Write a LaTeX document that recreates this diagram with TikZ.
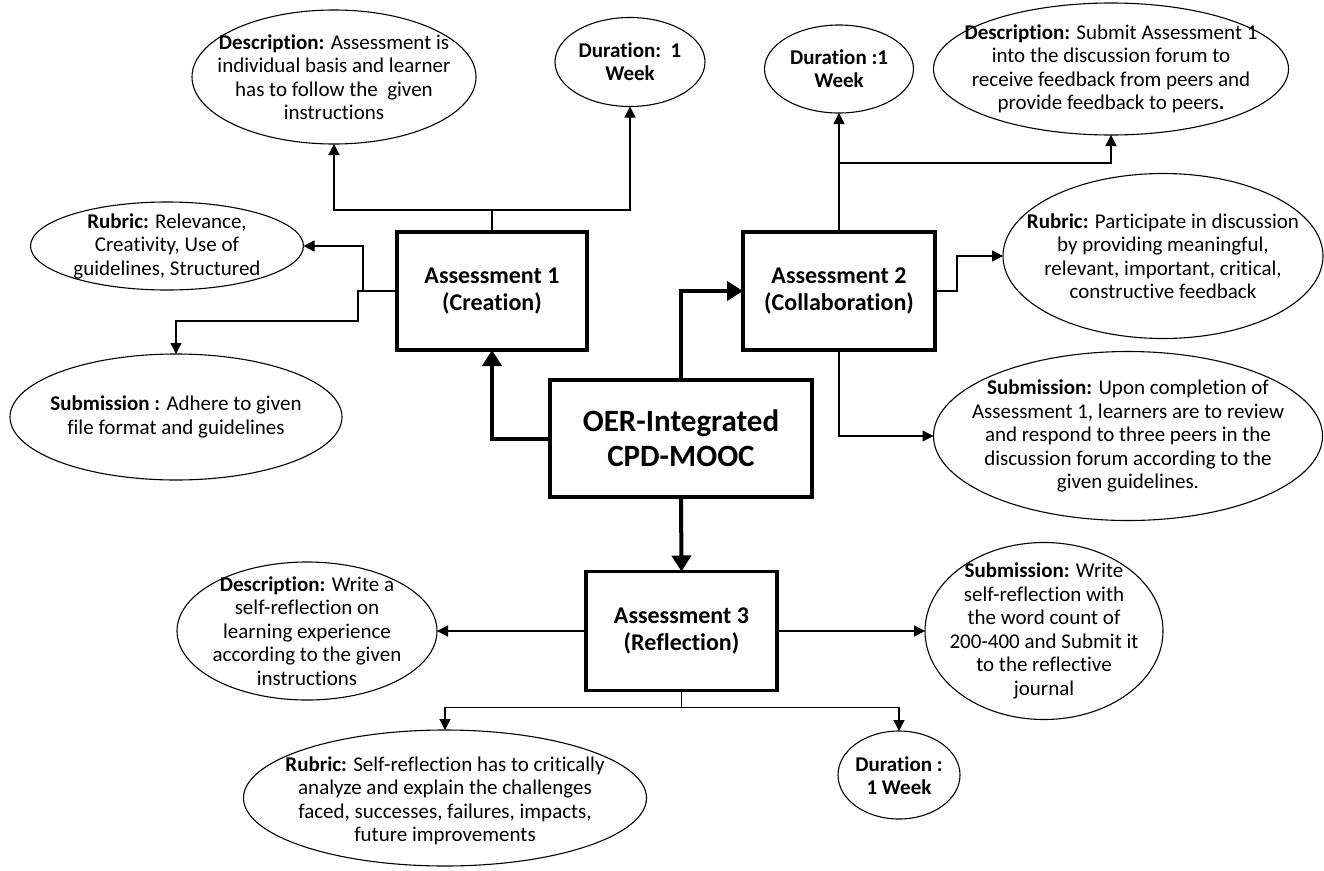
\documentclass[tikz,border=0pt]{standalone}
\usepackage{fontspec}
\setmainfont{Carlito}[Ligatures=NoCommon]
\usetikzlibrary{arrows.meta,shapes.geometric}

\begin{document}
\begin{tikzpicture}[x=1pt,y=-1pt,
  every node/.style={inner sep=0pt, outer sep=0pt},
  box/.style={draw, rectangle, line width=3.4pt},
  oval/.style={draw, ellipse, line width=1.1pt},
  ovtext/.style={align=center, font=\fontsize{21}{23.5}\selectfont},
  durtext/.style={align=center, font=\fontsize{21}{23}\selectfont\bfseries},
  boxtext/.style={align=center, font=\fontsize{24}{27.5}\selectfont\bfseries},
  arr/.style={line width=1.4pt, -{Triangle[length=11pt,width=11pt]}},
  bigarr/.style={line width=4pt, -{Triangle[length=16pt,width=19pt]}},
]
\fill[white] (0,0) rectangle (1324,870);
\useasboundingbox (0,0) rectangle (1324,870);

% main boxes
\node[box, minimum width=190, minimum height=118] (a1) at (492,291) {};
\node[boxtext] (a1t) at (a1) {Assessment 1\\(Creation)};
\node[box, minimum width=192, minimum height=118] (a2) at (839,291) {};
\node[boxtext] (a2t) at (a2) {Assessment 2\\(Collaboration)};
\node[box, minimum width=262, minimum height=117] (oer) at (681,438.5) {};
\node[align=center, font=\fontsize{31}{35}\selectfont\bfseries] (oert) at (oer) {OER-Integrated\\CPD-MOOC};
\node[box, minimum width=191, minimum height=119] (a3) at (681.5,631) {};
\node[boxtext] (a3t) at (a3) {Assessment 3\\(Reflection)};

% Assessment 1 details
\node[oval, minimum width=284, minimum height=134] (d1) at (334,77) {};
\node[ovtext] (d1t) at (d1) {\textbf{Description:} Assessment is\\individual basis and learner\\has to follow the\ \ given\\instructions};
\node[oval, minimum width=150, minimum height=89] (du1) at (630,62) {};
\node[durtext] (du1t) at (du1) {Duration:\ \ 1\\Week};
\node[oval, minimum width=273, minimum height=88] (r1) at (167,246) {};
\node[ovtext] (r1t) at (r1) {\textbf{Rubric:} Relevance,\\Creativity, Use of\\guidelines, Structured};
\node[oval, minimum width=332, minimum height=126] (s1) at (176,417) {};
\node[ovtext] (s1t) at (s1) {\textbf{Submission :} Adhere to given\\file format and guidelines};

% Assessment 2 details
\node[oval, minimum width=149, minimum height=88] (du2) at (839,69) {};
\node[durtext] (du2t) at (du2) {Duration :1\\Week};
\node[oval, minimum width=355, minimum height=132] (d2) at (1111,69) {};
\node[ovtext] (d2t) at (d2) {\textbf{Description:} Submit Assessment 1\\into the discussion forum to\\receive feedback from peers and\\provide feedback to peers\textbf{.}};
\node[oval, minimum width=320, minimum height=165] (r2) at (1163,256) {};
\node[ovtext] (r2t) at (r2) {\textbf{Rubric:} Participate in discussion\\by providing meaningful,\\relevant, important, critical,\\constructive feedback};
\node[oval, minimum width=389, minimum height=169] (s2) at (1128,436) {};
\node[ovtext] (s2t) at (s2) {\textbf{Submission:} Upon completion of\\Assessment 1, learners are to review\\and respond to three peers in the\\discussion forum according to the\\given guidelines.};

% Assessment 3 details
\node[oval, minimum width=260, minimum height=138] (d3) at (307,631) {};
\node[ovtext] (d3t) at (d3) {\textbf{Description:} Write a\\self-reflection on\\learning experience\\according to the given\\instructions};
\node[oval, minimum width=238, minimum height=177] (s3) at (1044,631) {};
\node[ovtext] (s3t) at (s3) {\textbf{Submission:} Write\\self-reflection with\\the word count of\\200-400 and Submit it\\to the reflective\\journal};
\node[oval, minimum width=403, minimum height=136] (r3) at (445,798) {};
\node[ovtext] (r3t) at (445,801) {\textbf{Rubric:} Self-reflection has to critically\\analyze and explain the challenges\\faced, successes, failures, impacts,\\future improvements};
\node[oval, minimum width=122, minimum height=88] (du3) at (899,775) {};
\node[durtext] (du3t) at (899,776) {Duration :\\1 Week};

% thick links from the course to its assessments
\draw[bigarr] (oer.west) -| (a1.south);
\draw[bigarr] (oer.north) |- (a2.west);
\draw[bigarr] (oer.south) -- (a3.north);

% Assessment 1 links
\draw[arr] (a1.north) -- ++(0,-22) -| (d1.south);
\draw[arr] (a1.north) -- ++(0,-22) -| (du1.south);
\draw[arr] (a1.west) -- ++(-34,0) |- (r1.east);
\draw[arr] (a1.west) -- ++(-39,0) -- ++(0,30) -| (s1.north);

% Assessment 2 links
\draw[arr] (a2.north) -- (du2.south);
\draw[arr] (a2.north) -- ++(0,-69) -| (d2.south);
\draw[arr] (a2.east) -- ++(22,0) |- (r2.west);
\draw[arr] (a2.south) |- (s2.west);

% Assessment 3 links
\draw[arr] (a3.west) -- (d3.east);
\draw[arr] (a3.east) -- (s3.west);
\draw[arr] (a3.south) -- ++(0,17) -| (r3.north);
\draw[arr] (a3.south) -- ++(0,17) -| (du3.north);
\end{tikzpicture}
\end{document}
